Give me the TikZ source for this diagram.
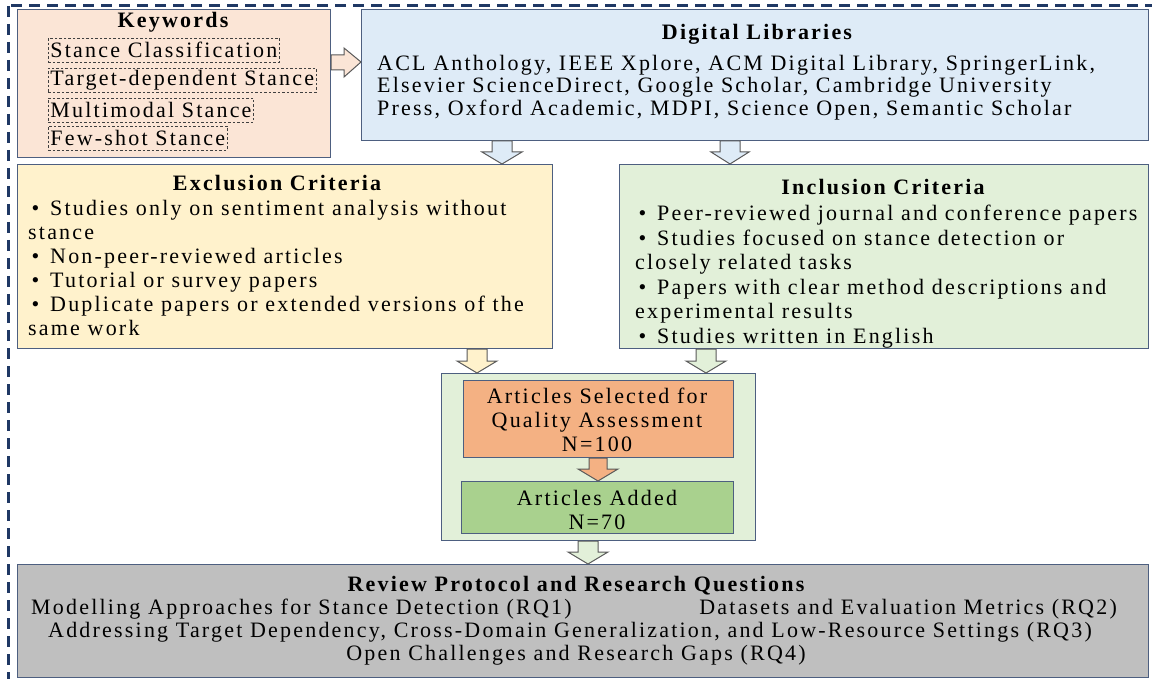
\documentclass[tikz,border=0pt]{standalone}
\usepackage{fontspec}
\setmainfont{Liberation Serif}[LetterSpace=10]
\usetikzlibrary{calc}
\definecolor{kwfill}{HTML}{FBE5D6}
\definecolor{dlfill}{HTML}{DEEBF7}
\definecolor{exfill}{HTML}{FFF2CC}
\definecolor{infill}{HTML}{E2F0D9}
\definecolor{orfill}{HTML}{F4B183}
\definecolor{grfill}{HTML}{A9D18E}
\definecolor{gyfill}{HTML}{BFBFBF}
\definecolor{boxline}{HTML}{4D5F80}
\definecolor{arrline}{HTML}{595959}
\definecolor{kwline}{HTML}{404040}
\definecolor{frame}{HTML}{1F3864}
\newcommand{\blt}{\makebox[22pt][l]{\hspace{3.5pt}•}}
\newcommand{\blkdown}[7]{%
  \draw[blk, fill=#1] let \p1=(#3), \p2=(#4) in
    ({#2-#5},\y1) -- ({#2+#5},\y1) -- ({#2+#5},\y2+#7pt) -- ({#2+#6},\y2+#7pt)
    -- (#2,\y2) -- ({#2-#6},\y2+#7pt) -- ({#2-#5},\y2+#7pt) -- cycle;}
\tikzset{
  box/.style={draw=boxline, line width=1pt, inner sep=0pt, anchor=north west},
  kwbox/.style={draw=kwline, dash pattern=on 2.5pt off 2pt, line width=0.9pt,
    inner xsep=2pt, inner ysep=0pt, minimum height=24pt, anchor=west},
  ttl/.style={font=\fontsize{22}{24}\selectfont\bfseries, inner sep=0pt},
  txt/.style={align=left, inner sep=0pt, anchor=north west},
  ctr/.style={align=center, inner sep=0pt},
  blk/.style={draw=arrline, line width=1pt, line join=miter},
}
\begin{document}
\begin{tikzpicture}[x=1pt,y=-1pt,font=\fontsize{22}{24}\selectfont]
\useasboundingbox (0,0) rectangle (1152,679);
\begin{scope}
  \clip (0,0) rectangle (1152,679);
  \draw[frame, line width=3pt, dash pattern=on 11pt off 7pt] (8,6) rectangle (1175,700);
\end{scope}

% Keywords
\node[box, fill=kwfill, minimum width=313pt, minimum height=148pt] (kw) at (17,9) {};
\node[ttl] (kwt) at (173,22) {Keywords};
\node[kwbox] (k1) at (48,50) {Stance Classification};
\node[kwbox] (k2) at (48,80) {Target-dependent Stance};
\node[kwbox] (k3) at (48,110) {Multimodal Stance};
\node[kwbox] (k4) at (48,138) {Few-shot Stance};

% Digital libraries
\node[box, fill=dlfill, minimum width=787pt, minimum height=131pt] (dl) at (361,9) {};
\node[ttl] (dlt) at (757,34) {Digital Libraries};
\node[txt, font=\fontsize{22}{22.5}\selectfont] (dlx) at (377,55)
  {ACL Anthology, IEEE Xplore, ACM Digital Library, SpringerLink,\\
   Elsevier ScienceDirect, Google Scholar, Cambridge University\\
   Press, Oxford Academic, MDPI, Science Open, Semantic Scholar};

% Exclusion
\node[box, fill=exfill, minimum width=535pt, minimum height=184pt] (ex) at (17,164) {};
\node[ttl] (ext) at (277,183) {Exclusion Criteria};
\node[txt] (exx) at (28,200)
  {\blt Studies only on sentiment analysis without\\
   stance\\
   \blt Non-peer-reviewed articles\\
   \blt Tutorial or survey papers\\
   \blt Duplicate papers or extended versions of the\\
   same work};

% Inclusion
\node[box, fill=infill, minimum width=529pt, minimum height=184pt] (in) at (619,164) {};
\node[ttl] (int) at (883,187) {Inclusion Criteria};
\node[txt, font=\fontsize{22}{24.5}\selectfont] (inx) at (635,205)
  {\blt Peer-reviewed journal and conference papers\\
   \blt Studies focused on stance detection or\\
   closely related tasks\\
   \blt Papers with clear method descriptions and\\
   experimental results\\
   \blt Studies written in English};

% Centre group
\node[box, fill=infill, minimum width=314pt, minimum height=167pt] (ct) at (441,373) {};
\node[box, fill=orfill, minimum width=270pt, minimum height=77pt] (or) at (463,380) {};
\node[ctr] (ort) at (597,420) {Articles Selected for\\Quality Assessment\\N=100};
\node[box, fill=grfill, minimum width=272pt, minimum height=52pt] (gr) at (461,481) {};
\node[ctr] (grt) at (597,510) {Articles Added\\N=70};

% Review protocol
\node[box, fill=gyfill, minimum width=1131pt, minimum height=113pt] (gy) at (17,564) {};
\node[ttl] (gyt) at (576,586) {Review Protocol and Research Questions};
\node[inner sep=0pt, anchor=west] (rq1) at (31,609) {Modelling Approaches for Stance Detection (RQ1)};
\node[inner sep=0pt, anchor=east] (rq2) at (1117,609) {Datasets and Evaluation Metrics (RQ2)};
\node[inner sep=0pt] (rq3) at (570,632) {Addressing Target Dependency, Cross-Domain Generalization, and Low-Resource Settings (RQ3)};
\node[inner sep=0pt] (rq4) at (576,655) {Open Challenges and Research Gaps (RQ4)};

% Block arrows
\draw[blk, fill=kwfill] let \p1=(kw.east), \p2=(dl.west) in
  (\x1,55) -- (\x2-17pt,55) -- (\x2-17pt,48) -- (\x2,62) -- (\x2-17pt,77)
  -- (\x2-17pt,70) -- (\x1,70) -- cycle;
\blkdown{dlfill}{502}{dl.south}{ex.north}{10}{20}{12}
\blkdown{dlfill}{730}{dl.south}{in.north}{10}{19}{12}
\blkdown{exfill}{477}{ex.south}{ct.north}{10}{20}{12}
\blkdown{infill}{706}{in.south}{ct.north}{10}{20}{12}
\blkdown{orfill}{598}{or.south}{gr.north}{9}{20}{12}
\blkdown{infill}{588}{ct.south}{gy.north}{10}{20}{12}
\end{tikzpicture}
\end{document}
